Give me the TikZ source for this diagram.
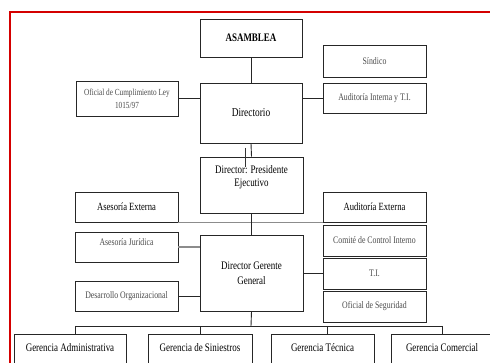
\documentclass[tikz,border=0pt]{standalone}
\usepackage{fontspec}
\setmainfont[FakeStretch=0.78]{Liberation Serif}
\usetikzlibrary{calc}
\definecolor{bordred}{HTML}{D40000}
\definecolor{smalltxt}{HTML}{4A4A4A}
\begin{document}
\begin{tikzpicture}[x=1pt,y=-1pt,
  box/.style={draw=black!85, line width=0.9pt, inner sep=1pt, align=center, font=\fontsize{11}{12}\selectfont},
  smallbox/.style={box, text=smalltxt, font=\fontsize{10}{11}\selectfont},
  gerbox/.style={box, anchor=north, inner ysep=0pt, text height=17pt, text depth=30pt, font=\fontsize{11.5}{12}\selectfont},
  conn/.style={draw=black!85, line width=0.9pt},
  grayconn/.style={draw=black!45, line width=1.1pt}]
\useasboundingbox (0,0) rectangle (490,363);
\draw[bordred, line width=1.3pt] (10,12) rectangle (500,375);

% top level
\node[box, minimum width=102pt, minimum height=38pt, font=\bfseries\fontsize{11.5}{14}\selectfont] (asamblea) at (251,38) {ASAMBLEA};
\node[smallbox, minimum width=103pt, minimum height=32pt] (sindico) at (374.5,61) {Síndico};
\node[smallbox, minimum width=103pt, minimum height=30pt] (audint) at (374.5,98) {Auditoría Interna y T.I.};
\node[box, minimum width=102pt, minimum height=60pt, font=\fontsize{12}{13}\selectfont] (directorio) at (251,113) {Directorio};
\node[smallbox, minimum width=102pt, minimum height=35pt, font=\fontsize{9.3}{13}\selectfont] (oficial) at (127,98.5) {Oficial de Cumplimiento Ley\\1015/97};

% second level
\node[box, minimum width=103pt, minimum height=56pt, font=\fontsize{11.5}{13}\selectfont] (dpe) at (251.5,185) {Director: Presidente\\Ejecutivo\\[5pt]};
\node[box, minimum width=103pt, minimum height=30pt] (asext) at (126.5,207) {Asesoría Externa};
\node[box, minimum width=103pt, minimum height=30pt] (audext) at (374.5,207) {Auditoría Externa};

% third level
\node[box, minimum width=103pt, minimum height=76pt, font=\fontsize{11.5}{15.5}\selectfont] (dgg) at (251.5,273) {Director Gerente\\General};
\node[smallbox, minimum width=103pt, minimum height=30pt] (asjur) at (126.5,247) {Asesoría Jurídica\\[-1pt]};
\node[smallbox, minimum width=103pt, minimum height=30pt] (desorg) at (126.5,296) {Desarrollo Organizacional};
\node[smallbox, minimum width=103pt, minimum height=31pt] (comite) at (374.5,240.5) {Comité de Control Interno};
\node[smallbox, minimum width=103pt, minimum height=31pt] (ti) at (374.5,273.5) {T.I.};
\node[smallbox, minimum width=103pt, minimum height=31pt] (ofseg) at (374.5,306.5) {Oficial de Seguridad};

% gerencias
\node[gerbox, minimum width=112pt] (gadm) at (70,334) {Gerencia Administrativa};
\node[gerbox, minimum width=104pt] (gsin) at (200,334) {Gerencia de Siniestros};
\node[gerbox, minimum width=103pt] (gtec) at (322.5,334) {Gerencia Técnica};
\node[gerbox, minimum width=102pt] (gcom) at (442,334) {Gerencia Comercial};

% connectors
\draw[conn] (asamblea.south) -- (directorio.north);
\draw[conn] ($(sindico.west)+(0,7)$) -- ($(sindico.west)+(0,7)$ -| asamblea.south);
\draw[conn] (oficial.east) -- (oficial.east -| directorio.west);
\draw[conn] (audint.west) -- (audint.west -| directorio.east);
\draw[conn] (directorio.south) -- (dpe.north);
\coordinate (tickA) at (245,148);
\coordinate (tickB) at (245,167);
\draw[black!80, line width=0.6pt] (tickA) -- (tickB);
\draw[grayconn, line width=1pt] (asext.south east) -- (audext.south west);
\draw[conn] (dpe.south) -- (dgg.north);
\draw[grayconn, line width=1.4pt] (asjur.east) -- (asjur.east -| dgg.west);
\draw[conn] (desorg.east) -- (desorg.east -| dgg.west);
\draw[grayconn, line width=0.9pt] ($(comite.west)+(0,6.5)$) -- ($(comite.west)+(0,6.5)$ -| dgg.east);
\draw[conn] (ti.west) -- (ti.west -| dgg.east);

\coordinate (bus) at (251,326);
\coordinate (b1) at (75,326);
\coordinate (b2) at (200,326);
\coordinate (b3) at (327,326);
\coordinate (b4) at (442,326);
\draw[conn] (dgg.south) -- (bus);
\draw[conn] (b1) -- (b4);
\draw[conn] (b1) -- (b1 |- gadm.north);
\draw[conn] (b2) -- (b2 |- gsin.north);
\draw[conn] (b3) -- (b3 |- gtec.north);
\draw[conn] (b4) -- (b4 |- gcom.north);
\end{tikzpicture}
\end{document}
